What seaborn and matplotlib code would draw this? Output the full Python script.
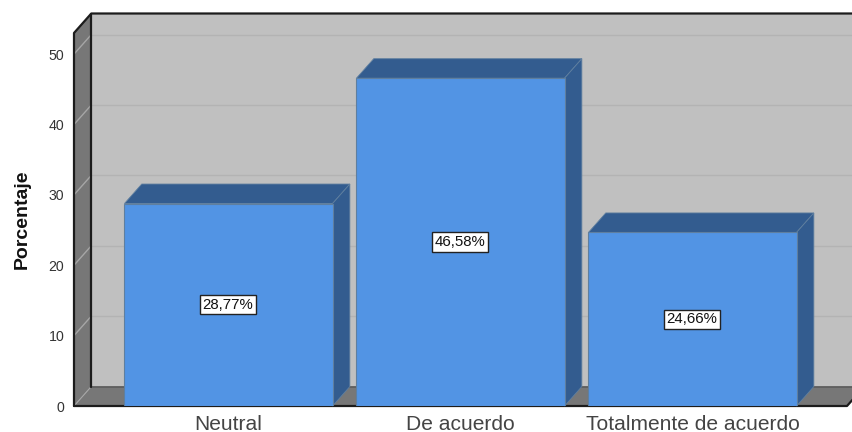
import matplotlib
matplotlib.use("Agg")
import matplotlib.pyplot as plt
from matplotlib.patches import Polygon
import seaborn as sns

categories = ["Neutral", "De acuerdo", "Totalmente de acuerdo"]
values = [28.77, 46.58, 24.66]
value_labels = ["28,77%", "46,58%", "24,66%"]
y_ticks = [0, 10, 20, 30, 40, 50]

BAR = "#5294e4"
BAR_DARK = "#335c8f"
WALL = "#c0c0c0"
SIDE = "#777777"

sns.set_theme(style="white")
plt.rcParams["font.family"] = ["Liberation Sans", "DejaVu Sans"]

W, H = 853, 432
fig = plt.figure(figsize=(W / 100, H / 100), dpi=100)
ax = fig.add_axes([74 / W, (H - 406) / H, 773 / W, 373 / H])

sns.barplot(x=categories, y=values, color=BAR, width=0.897, saturation=1, ax=ax,
            edgecolor="#5f7f9f", linewidth=0.8, zorder=5)
ax.set_xlim(-0.666, 2.666)
ax.set_ylim(0, 53)
for s in ax.spines.values():
    s.set_visible(False)
ax.patch.set_visible(False)

# depth of the fake 3D box, in data units
dx = 17.3 * (ax.get_xlim()[1] - ax.get_xlim()[0]) / 773
dy = 19.5 * 53 / 373
x0, x1 = ax.get_xlim()
y0, y1 = ax.get_ylim()


def face(points, color, z, edge="none", lw=0):
    ax.add_patch(Polygon(points, closed=True, facecolor=color, edgecolor=edge,
                         linewidth=lw, zorder=z, clip_on=False))


# walls and floor
face([(x0 + dx, y0 + dy), (x1 + dx, y0 + dy), (x1 + dx, y1 + dy), (x0 + dx, y1 + dy)], WALL, 1)
face([(x0, y0), (x0 + dx, y0 + dy), (x0 + dx, y1 + dy), (x0, y1)], SIDE, 1)
face([(x0, y0), (x1, y0), (x1 + dx, y0 + dy), (x0 + dx, y0 + dy)], SIDE, 1)

for v in y_ticks[1:]:
    ax.plot([x0 + dx, x1 + dx], [v + dy, v + dy], color="#b3b3b3", lw=1, zorder=2, clip_on=False)
    ax.plot([x0, x0 + dx], [v, v + dy], color="#a6a6a6", lw=1, zorder=2, clip_on=False)
ax.plot([x0, x0 + dx], [y0, y0 + dy], color="#a6a6a6", lw=0.8, zorder=2, clip_on=False)
ax.plot([x0 + dx, x1 + dx], [y0 + dy, y0 + dy], color="#5c5c5c", lw=1.2, zorder=2, clip_on=False)

# box outline
outline = dict(color="#1c1c1c", lw=1.6, zorder=3, clip_on=False, solid_capstyle="round")
ax.plot([x0, x0, x0 + dx, x1 + dx], [y0, y1, y1 + dy, y1 + dy], **outline)
ax.plot([x0 + dx, x0 + dx], [y0 + dy, y1 + dy], **outline)
ax.plot([x0, x1, x1 + dx], [y0, y0, y0 + dy], **outline)

# bar depth faces and labels
for bar, text in zip(ax.patches, value_labels):
    left, right = bar.get_x(), bar.get_x() + bar.get_width()
    top = bar.get_height()
    face([(left, top), (right, top), (right + dx, top + dy), (left + dx, top + dy)],
         BAR_DARK, 4, edge="#5f7f9f", lw=0.6)
    face([(right, 0), (right + dx, dy), (right + dx, top + dy), (right, top)],
         BAR_DARK, 4, edge="#5f7f9f", lw=0.6)
    ax.text((left + right) / 2 - 0.002, top / 2, text, ha="center", va="center", fontsize=10.8,
            color="#111111", zorder=6,
            bbox=dict(boxstyle="square,pad=0.18", facecolor="white", edgecolor="#222222", linewidth=1))

ax.set_yticks(y_ticks)
ax.set_yticklabels([str(v) for v in y_ticks], fontsize=10.2, color="#333333")
ax.tick_params(axis="y", length=0, pad=7)
ax.tick_params(axis="x", length=0, pad=6.5, labelsize=15.1, labelcolor="#444444")
ax.set_ylabel("Porcentaje", fontsize=14, fontweight="bold", color="#111111")
ax.yaxis.set_label_coords(-0.0565, 0.502)

fig.savefig("out.png", dpi=100, facecolor="white")
